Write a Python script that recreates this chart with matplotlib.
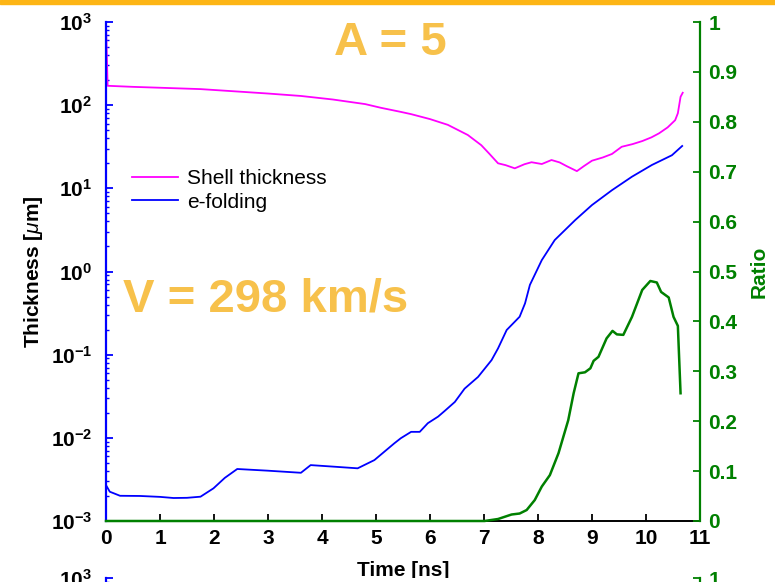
import matplotlib
matplotlib.use('Agg')
import matplotlib.pyplot as plt
from matplotlib.ticker import LogLocator, FixedLocator, FuncFormatter, NullFormatter
from matplotlib.patches import Rectangle
import numpy as np

plt.rcParams['font.family'] = ['Liberation Sans', 'DejaVu Sans']
plt.rcParams['mathtext.fontset'] = 'custom'
plt.rcParams['mathtext.rm'] = 'Liberation Sans'
plt.rcParams['mathtext.bf'] = 'Liberation Sans:bold'
plt.rcParams['mathtext.it'] = 'Liberation Sans:italic'

# ---- data ----
shell_t = [0, 0.03, 0.5, 1.0, 1.75, 2.5, 3.0, 3.61, 4.2, 4.8, 5.09, 5.46, 5.65, 6.0,
           6.33, 6.70, 6.95, 7.1, 7.26, 7.4, 7.57, 7.75, 7.88, 8.07, 8.25, 8.4, 8.53,
           8.72, 8.85, 9.00, 9.2, 9.37, 9.55, 9.75, 9.93, 10.1, 10.24, 10.4, 10.54,
           10.59, 10.64, 10.68]
shell_v = [950, 171, 166, 162, 156, 145, 138, 129, 117, 103, 93, 83, 78, 68,
           58, 43.8, 33, 26, 20, 19, 17.4, 19.5, 20.6, 19.6, 21.9, 20.5, 18.5,
           16.1, 18.5, 21.5, 23.5, 25.9, 31.6, 34, 37, 41, 45.8, 54, 66,
           80, 126, 141]

efold_t = [0, 0.07, 0.26, 0.63, 1.0, 1.25, 1.5, 1.75, 1.99, 2.2, 2.43, 2.99, 3.61,
           3.79, 4.22, 4.66, 4.97, 5.34, 5.46, 5.65, 5.81, 5.96, 6.15, 6.27, 6.46,
           6.64, 6.89, 7.14, 7.26, 7.42, 7.57, 7.66, 7.76, 7.85, 8.07, 8.31, 8.69,
           9.0, 9.37, 9.74, 10.11, 10.48, 10.67]
efold_v = [0.0027, 0.00225, 0.00201, 0.0020, 0.00195, 0.00189, 0.0019, 0.00196,
           0.00247, 0.0033, 0.00422, 0.00403, 0.0038, 0.0047, 0.0045, 0.0043,
           0.0054, 0.0086, 0.0099, 0.0118, 0.0118, 0.015, 0.018, 0.021, 0.027,
           0.039, 0.054, 0.086, 0.119, 0.198, 0.249, 0.286, 0.414, 0.69, 1.37,
           2.39, 4.16, 6.3, 9.5, 13.8, 19.1, 25, 32.3]

ratio_t = [0, 6.70, 7.01, 7.26, 7.51, 7.66, 7.79, 7.94, 8.07, 8.22, 8.38, 8.56,
           8.66, 8.75, 8.87, 8.97, 9.03, 9.12, 9.27, 9.38, 9.46, 9.58, 9.74, 9.93,
           10.08, 10.20, 10.28, 10.42, 10.51, 10.59, 10.64]
ratio_v = [0, 0, 0, 0.004, 0.013, 0.015, 0.022, 0.042, 0.069, 0.092, 0.136, 0.202,
           0.256, 0.296, 0.298, 0.306, 0.321, 0.329, 0.366, 0.381, 0.374, 0.373,
           0.409, 0.463, 0.481, 0.478, 0.459, 0.448, 0.409, 0.391, 0.256]

x_ticks = list(range(0, 12))
ratio_ticks = [0, 0.1, 0.2, 0.3, 0.4, 0.5, 0.6, 0.7, 0.8, 0.9, 1.0]

BLUE = '#0000FF'
MAGENTA = '#FF00FF'
GREEN = '#008000'
GOLD = '#F7C14B'

W, H = 775, 582
fig = plt.figure(figsize=(W / 100, H / 100), dpi=100)

# orange top bar
fig.patches.append(Rectangle((0, 1 - 4 / H), 1, 4 / H, transform=fig.transFigure,
                             color='#FDB515', zorder=0))

L, R, T, B = 106, 700, 22, 521
rect = [L / W, 1 - B / H, (R - L) / W, (B - T) / H]


def style_axes(ax, ax2):
    ax.set_yscale('log')
    ax.set_ylim(1e-3, 1e3)
    ax.set_xlim(0, 11)
    ax.set_xticks(x_ticks)
    ax.yaxis.set_major_locator(LogLocator(base=10, numticks=10))
    ax.yaxis.set_minor_locator(LogLocator(base=10, subs=np.arange(2, 10), numticks=10))
    ax.yaxis.set_minor_formatter(NullFormatter())
    ax.yaxis.set_major_formatter(FuncFormatter(
        lambda v, p: r'$\mathbf{10^{%d}}$' % int(round(np.log10(v)))))
    for s in ['top', 'right']:
        ax.spines[s].set_visible(False)
    ax.spines['left'].set_color(BLUE)
    ax.spines['left'].set_linewidth(1.6)
    ax.spines['bottom'].set_color('black')
    ax.spines['bottom'].set_linewidth(1.4)
    ax.spines['bottom'].set_zorder(0.5)
    ax.tick_params(axis='y', which='major', direction='in', length=5, width=1.3,
                   color=BLUE, labelsize=15, pad=10, labelcolor='black')
    ax.tick_params(axis='y', which='minor', direction='in', length=2.5, width=1.0,
                   color=BLUE)
    ax.tick_params(axis='x', which='major', direction='in', length=5, width=1.3,
                   color='black', labelsize=15, pad=6)
    for lab in ax.get_xticklabels():
        lab.set_fontweight('bold')

    ax2.set_zorder(ax.get_zorder() + 1)
    ax2.patch.set_visible(False)
    ax2.set_ylim(0, 1)
    ax2.yaxis.set_major_locator(FixedLocator(ratio_ticks))
    ax2.yaxis.set_major_formatter(FuncFormatter(lambda v, p: '%g' % round(v, 1)))
    for s in ['top', 'left', 'bottom']:
        ax2.spines[s].set_visible(False)
    ax2.spines['right'].set_color(GREEN)
    ax2.spines['right'].set_linewidth(1.6)
    ax2.tick_params(axis='y', direction='in', length=5, width=1.3, color=GREEN,
                    labelcolor=GREEN, labelsize=15, pad=6)
    for lab in ax2.get_yticklabels():
        lab.set_fontweight('bold')


ax = fig.add_axes(rect)
ax2 = ax.twinx()
style_axes(ax, ax2)

l1, = ax.plot(shell_t, shell_v, color=MAGENTA, lw=1.3, label='Shell thickness')
l2, = ax.plot(efold_t, efold_v, color=BLUE, lw=1.3, label='e-folding')
ax2.plot(ratio_t, ratio_v, color=GREEN, lw=1.8, clip_on=False, zorder=10)

ax.set_xlabel('Time [ns]', fontsize=15, fontweight='bold', labelpad=9)
ax.set_ylabel(r'Thickness [$\mu$m]', fontsize=15, fontweight='bold', labelpad=4)
ax2.set_ylabel('Ratio', fontsize=15, fontweight='bold', color=GREEN, labelpad=9)

ax.legend(handles=[l1, l2], loc='upper left', bbox_to_anchor=(132 / W, 1 - 169 / H),
          bbox_transform=fig.transFigure, frameon=False, fontsize=15,
          handlelength=2.2, handletextpad=0.45, labelspacing=0.22, borderpad=0,
          borderaxespad=0)

fig.text(390 / W, 1 - 43 / H, 'A = 5', color=GOLD, fontsize=34, fontweight='bold',
         ha='center', va='center')
fig.text(123 / W, 1 - 300 / H, 'V = 298 km/s', color=GOLD, fontsize=34,
         fontweight='bold', ha='left', va='center')

# partial second panel below (cut off by figure edge)
off = 556
rect2 = [L / W, 1 - (B + off) / H, (R - L) / W, (B - T) / H]
ax3 = fig.add_axes(rect2)
ax4 = ax3.twinx()
style_axes(ax3, ax4)
ax3.set_xticklabels([])

fig.savefig('out.png', dpi=100)
